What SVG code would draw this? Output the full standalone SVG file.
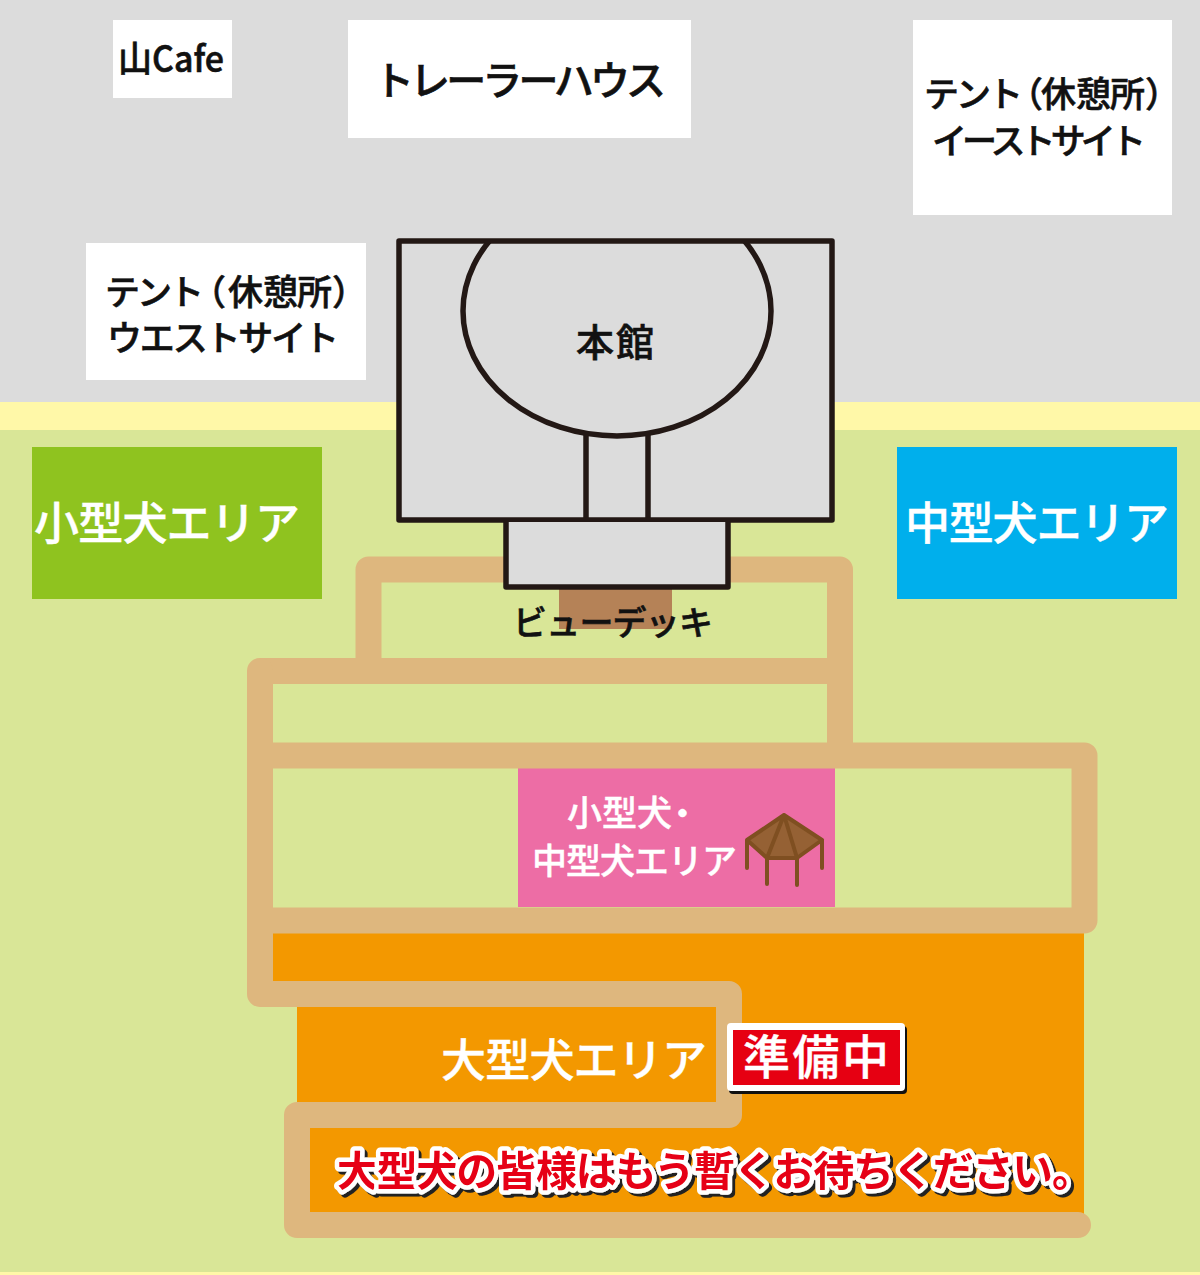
<svg xmlns="http://www.w3.org/2000/svg" width="1200" height="1275" viewBox="0 0 1200 1275">
<style>
.t{font-family:"Noto Sans CJK JP","Noto Sans",sans-serif;font-weight:500}
.m{text-anchor:middle}
.k{fill:#111;stroke:#111;stroke-width:.6}
.w{fill:#fff;stroke:#fff;stroke-width:.4}
.box{fill:#fff}
.bld{fill:#dcdcdc}
.ln{fill:none;stroke:#231815;stroke-width:5.500;stroke-linejoin:round}
.path{fill:none;stroke:#deb77e;stroke-width:26;stroke-linejoin:round;stroke-linecap:round}
.pb{fill:none;stroke:#deb77e;stroke-width:26;stroke-linejoin:round;stroke-linecap:butt}
.g{fill:none;stroke:#7f4f21;stroke-width:4;stroke-linecap:round;stroke-linejoin:round}
</style>
<defs>
<clipPath id="top"><rect x="399" y="241" width="433" height="279"/></clipPath>
<filter id="sh" x="-5%" y="-20%" width="110%" height="140%"><feDropShadow dx="3" dy="3" stdDeviation="0.6" flood-color="#222"/></filter>
</defs>
<g id="ground">
<rect width="1200" height="402" fill="#dcdcdc"/>
<rect y="402" width="1200" height="28" fill="#fff8a8"/>
<rect y="430" width="1200" height="842" fill="#d9e697"/>
<rect y="1272" width="1200" height="3" fill="#fff8a8"/>
</g>
<g id="large-area"><path d="M273 933H1084V1225H297V1007H273Z" fill="#f39800"/></g>
<g id="medium-small-area"><rect x="518" y="768" width="317" height="139" fill="#ed6da5"/></g>
<g id="connectors">
<path class="pb" d="M368.500 671V569.500H840V755"/>
<path class="pb" d="M260 671H840"/>
<path class="pb" d="M260 755.500H1084.500V920.500H260"/>
<path class="path" d="M260 755V671M260 755V994H729V1115H297V1225H1078"/>
</g>
<g id="cafe"><rect class="box" x="113" y="20" width="119" height="78"/><text class="t m k" x="171" y="72" font-size="36" textLength="106" lengthAdjust="spacingAndGlyphs">山Cafe</text></g>
<g id="trailer"><rect class="box" x="348" y="20" width="343" height="118"/><text class="t m k" x="520" y="95" font-size="40" textLength="292">トレーラーハウス</text></g>
<g id="tent-east"><rect class="box" x="913" y="20" width="259" height="195"/>
<text class="t k" y="107" font-size="35" x="924 956 988 1008 1041 1076 1110 1145">テント（休憩所）</text>
<text class="t m k" x="1039" y="154" font-size="35" textLength="214">イーストサイト</text></g>
<g id="tent-west"><rect class="box" x="86" y="243" width="280" height="137"/>
<text class="t k" y="305" font-size="35" x="105 137 169 191 228 263 297 332">テント（休憩所）</text>
<text class="t m k" x="223" y="351" font-size="35" textLength="232">ウエストサイト</text></g>
<g id="small-area"><rect x="32" y="447" width="290" height="152" fill="#8fc31f"/><text class="t m w" x="167" y="540" font-size="45" textLength="266">小型犬エリア</text></g>
<g id="medium-area"><rect x="897" y="447" width="280" height="152" fill="#00afec"/><text class="t m w" x="1037" y="540" font-size="45" textLength="264">中型犬エリア</text></g>
<g id="deck"><rect x="559" y="588" width="113" height="41" fill="#b58257"/><text class="t m k" x="613" y="635" font-size="34" textLength="200">ビューデッキ</text></g>
<g id="main-building">
<rect class="bld" x="399" y="241" width="433" height="279"/>
<ellipse class="ln" cx="617" cy="311" rx="154" ry="125" clip-path="url(#top)"/>
<path class="ln" d="M586 435V520M648 435V520"/>
<rect class="ln" x="399" y="241" width="433" height="279"/>
<rect class="bld" x="506" y="522" width="222" height="65"/>
<path class="ln" d="M506 520V587H728V520"/>
<text class="t m k" x="615" y="356" font-size="38" textLength="78">本館</text>
</g>
<g id="medium-small-label">
<text class="t w" y="826" font-size="35" x="567 602 637 665">小型犬・</text>
<text class="t w" x="532" y="874" font-size="35" textLength="205">中型犬エリア</text>
</g>
<g id="gazebo">
<path d="M784 815L822 840L797 858H767L747 840Z" fill="#956134"/>
<path class="g" d="M784 815L822 840L797 858H767L747 840ZM784 815L767 858M784 815L797 858M747 840V868M822 840V868M767 858V884M797 858V885"/>
</g>
<g id="large-label"><text class="t m w" x="574" y="1077" font-size="45" textLength="266">大型犬エリア</text></g>
<g id="preparing">
<rect x="729" y="1026" width="178" height="68" rx="4" fill="#111"/>
<rect x="727" y="1023" width="178" height="68" rx="4" fill="#fff"/>
<rect x="733" y="1030" width="167" height="55" fill="#e60012"/>
<text class="t m w" x="816" y="1074" font-size="47" textLength="146">準備中</text>
</g>
<g id="notice" filter="url(#sh)">
<text class="t" x="337" y="1186" font-size="41" textLength="756" fill="#e60012" stroke="#fff" stroke-width="9" stroke-linejoin="round" paint-order="stroke" style="font-weight:700">大型犬の皆様はもう暫くお待ちください。</text>
</g>
</svg>
